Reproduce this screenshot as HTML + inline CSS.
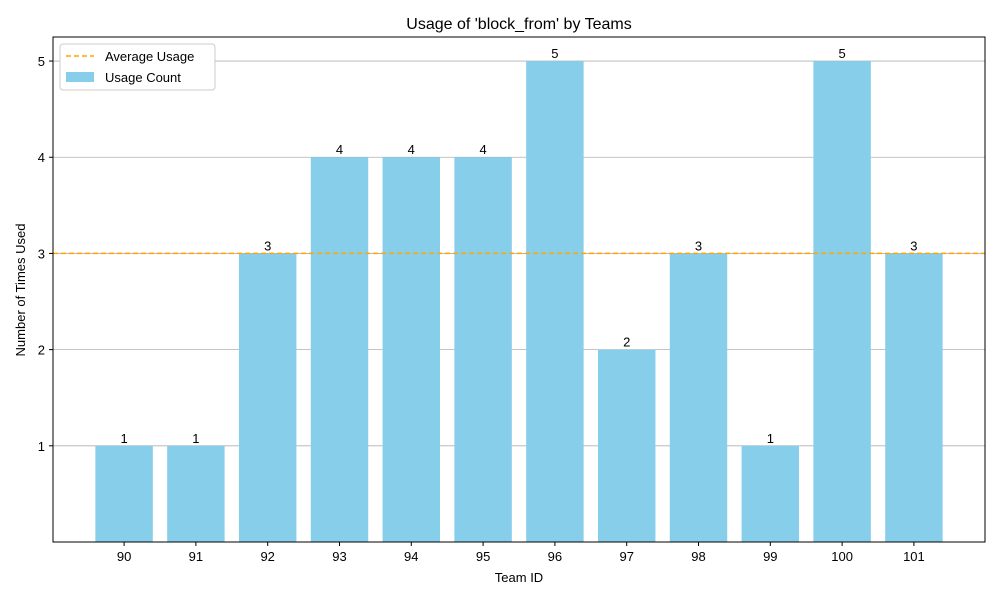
<!DOCTYPE html>
<html><head><meta charset="utf-8"><style>
body{margin:0;background:#fff;}
svg{font-family:"Liberation Sans","DejaVu Sans",sans-serif;}
</style></head><body>
<svg id="chart" width="1000" height="600" xmlns="http://www.w3.org/2000/svg">
<rect width="1000" height="600" fill="#fff"/>
<g id="grid"></g><g id="bars"></g><g id="labels"></g><g id="axes"></g>
<text x="519" y="29" text-anchor="middle" font-size="16">Usage of 'block_from' by Teams</text>
<text x="519" y="582" text-anchor="middle" font-size="13">Team ID</text>
<text x="25" y="290" text-anchor="middle" font-size="13" transform="rotate(-90 25 290)">Number of Times Used</text>
<g>
<rect x="60" y="44" width="155" height="46" fill="#fff" stroke="#ccc" rx="3"/>
<line x1="66" y1="56" x2="94" y2="56" stroke="orange" stroke-width="1.5" stroke-dasharray="5,3"/>
<text x="105" y="61" font-size="13">Average Usage</text>
<rect x="66" y="72" width="28" height="10" fill="#87ceeb"/>
<text x="105" y="82" font-size="13">Usage Count</text>
</g>
</svg>
<script>
const categories=["90","91","92","93","94","95","96","97","98","99","100","101"];
const usageCounts=[1,1,3,4,4,4,5,2,3,1,5,3];
const yTicks=[1,2,3,4,5];
const L=53,R=985,T=37,B=542;
const xMin=-0.99,xMax=categories.length-1+0.99,yMax=5.25;
const xs=i=>L+(i-xMin)/(xMax-xMin)*(R-L);
const ys=v=>B-v/yMax*(B-T);
const NS="http://www.w3.org/2000/svg";
function mk(p,t,a){const e=document.createElementNS(NS,t);for(const k in a)e.setAttribute(k,a[k]);document.getElementById(p).appendChild(e);return e;}
yTicks.forEach(v=>{
 const g=mk("grid","line",{x1:L,x2:R,y1:ys(v),y2:ys(v),stroke:"#b0b0b0","stroke-width":0.8});
 
 
 const tk=mk("axes","line",{x1:L-4,x2:L,y1:ys(v),y2:ys(v),stroke:"#000"});
 
 
 const t=mk("axes","text",{x:L-8,y:ys(v)+5,"text-anchor":"end","font-size":13});
 t.textContent=v;
 
 
});
const bw=0.8*(xs(1)-xs(0));
categories.forEach((c,i)=>{
 const v=usageCounts[i];
 const b=mk("bars","rect",{x:xs(i)-bw/2,y:ys(v),width:bw,height:B-ys(v),fill:"#87ceeb"});
 
 
 const l=mk("labels","text",{x:xs(i),y:ys(v)-3,"text-anchor":"middle","font-size":13});
 l.textContent=v;
 
 
 const tk=mk("axes","line",{x1:xs(i),x2:xs(i),y1:B,y2:B+4,stroke:"#000"});
 
 
 const t=mk("axes","text",{x:xs(i),y:B+19,"text-anchor":"middle","font-size":13});
 t.textContent=c;
 
 
});
const avg=usageCounts.reduce((a,b)=>a+b,0)/usageCounts.length;
const al=mk("labels","line",{x1:L,x2:R,y1:ys(avg),y2:ys(avg),stroke:"orange","stroke-width":1.5,"stroke-dasharray":"5,3"});


const fr=mk("axes","rect",{x:L,y:T,width:R-L,height:B-T,fill:"none",stroke:"#000","stroke-width":1});


</script>
</body></html>
